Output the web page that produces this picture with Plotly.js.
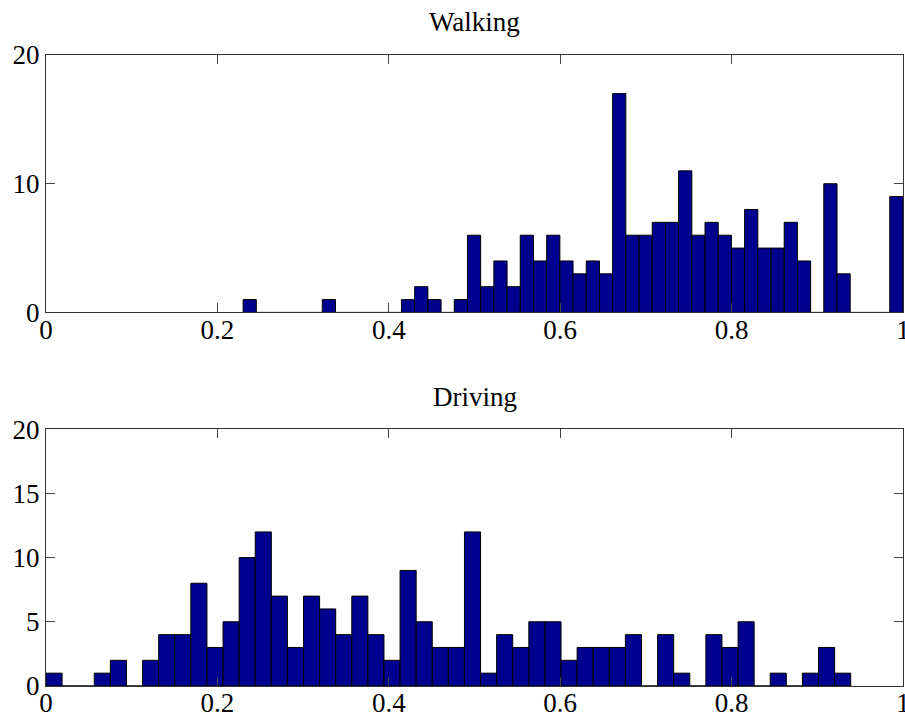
<!DOCTYPE html>
<html>
<head>
<meta charset="utf-8">
<script src="https://cdn.plot.ly/plotly-3.0.1.min.js"></script>
<style>html,body{margin:0;padding:0;background:#fff;}#chart{width:905px;height:722px;}</style>
</head>
<body>
<div id="chart"></div>
<script>
// Histogram counts (50 bins each)
const walkingCounts = [1,0,0,0,0,0,1,0,0,0, 0,0,1,2,1,0,1,6,2,4, 2,6,4,6,4,3,4,3,17,6, 6,7,7,11,6,7,6,5,8,5, 5,7,4,0,10,3,0,0,0,9];
const walkingMin = 0.23, walkingMax = 1.0;
const drivingCounts = [1,0,0,1,2,0,2,4,4,8, 3,5,10,12,7,3,7,6,4,7, 4,2,9,5,3,3,12,1,4,3, 5,5,2,3,3,3,4,0,4,1, 0,4,3,5,0,1,0,1,3,1];
const drivingMin = 0.0, drivingMax = 0.939;
const xTicks = [0, 0.2, 0.4, 0.6, 0.8, 1];
const titles = ["Walking", "Driving"];

function centers(counts, lo, hi) {
  const w = (hi - lo) / counts.length;
  return {x: counts.map((_, i) => lo + (i + 0.5) * w), w: w};
}
const wk = centers(walkingCounts, walkingMin, walkingMax);
const dr = centers(drivingCounts, drivingMin, drivingMax);

const barStyle = {color: '#00008F', line: {color: '#000', width: 1}};
const traces = [
  {type: 'bar', x: wk.x, y: walkingCounts, width: wk.w, marker: barStyle, xaxis: 'x', yaxis: 'y', hoverinfo: 'x+y'},
  {type: 'bar', x: dr.x, y: drivingCounts, width: dr.w, marker: barStyle, xaxis: 'x2', yaxis: 'y2', hoverinfo: 'x+y'}
];

const font = {family: '"Liberation Serif", "Times New Roman", serif', size: 27, color: '#000'};
const axBase = {
  showline: true, linecolor: '#333', linewidth: 1, mirror: 'ticks',
  ticks: 'inside', ticklen: 9, tickcolor: '#444', tickwidth: 1,
  showgrid: false, zeroline: false, tickfont: font, fixedrange: true,
  ticklabeloverflow: 'allow'
};
const xBase = Object.assign({}, axBase, {
  domain: [0, 1], range: [0, 1.00001], tickmode: 'array',
  tickvals: xTicks, ticktext: xTicks.map(String), ticklabelstandoff: -7
});
const layout = {
  width: 905, height: 722,
  margin: {l: 46, r: 2, t: 55, b: 36},
  paper_bgcolor: '#fff', plot_bgcolor: '#fff',
  showlegend: false, bargap: 0,
  font: font,
  xaxis: Object.assign({}, xBase, {anchor: 'y'}),
  yaxis: Object.assign({}, axBase, {domain: [0.592, 1], range: [0, 20], dtick: 10, anchor: 'x'}),
  xaxis2: Object.assign({}, xBase, {anchor: 'y2'}),
  yaxis2: Object.assign({}, axBase, {domain: [0, 0.407], range: [0, 20], dtick: 5, anchor: 'x2'}),
  annotations: [
    {text: titles[0], xref: 'paper', yref: 'paper', x: 0.5, y: 1, yshift: 33, showarrow: false, font: font, xanchor: 'center', yanchor: 'middle'},
    {text: titles[1], xref: 'paper', yref: 'paper', x: 0.5, y: 0.407, yshift: 32, showarrow: false, font: font, xanchor: 'center', yanchor: 'middle'}
  ]
};
Plotly.newPlot('chart', traces, layout, {displayModeBar: false, staticPlot: true});
</script>
</body>
</html>
